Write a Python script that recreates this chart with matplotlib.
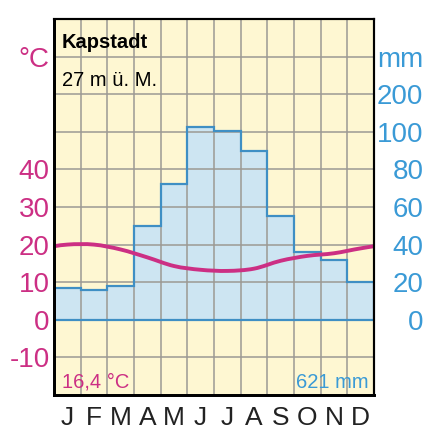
import numpy as np
import matplotlib
matplotlib.use("Agg")
import matplotlib.pyplot as plt
from matplotlib.path import Path
from matplotlib.patches import PathPatch

plt.rcParams['font.family'] = ['Liberation Sans', 'DejaVu Sans']

months = ['J', 'F', 'M', 'A', 'M', 'J', 'J', 'A', 'S', 'O', 'N', 'D']
temp = [20.0, 20.0, 18.7, 16.6, 14.3, 13.3, 13.0, 13.6, 15.7, 17.0, 17.7, 19.0]
precip = [17, 16, 18, 50, 72, 112, 103, 90, 55, 36, 32, 20]

temp_ticks = [-10, 0, 10, 20, 30, 40]
mm_ticks = [0, 20, 40, 60, 80, 100, 200]

station = "Kapstadt"
height_txt = "27 m ü. M."
mean_temp_txt = "16,4 °C"
sum_precip_txt = "621 mm"

c_temp = '#cc2f84'
c_blue = '#3a9ad6'
c_edge = '#3f8fc4'
c_fill = '#cde5f2'
c_bg = '#fef7d2'
c_grid = '#9c9a94'


def mm_to_axis(p):
    # up to 100 mm: 20 mm = 10 degC, above: 100 mm = 10 degC
    p = np.asarray(p, dtype=float)
    return np.where(p <= 100, p / 2.0, 50 + (p - 100) / 10.0)


fig = plt.figure(figsize=(4.4, 4.44), dpi=100)
ax = fig.add_axes([54 / 440, 49 / 444, 320 / 440, 376 / 444])
ax.set_facecolor(c_bg)
ax.set_xlim(0, 12)
ax.set_ylim(-20, 80)

# precipitation bars
edges = np.arange(13)
p_scaled = mm_to_axis(precip)
ax.stairs(p_scaled, edges, baseline=0, fill=True, color=c_fill, zorder=1)
ax.axhline(0, color=c_edge, lw=1.6, zorder=3)
ax.stairs(p_scaled, edges, baseline=0, fill=False, edgecolor=c_edge, lw=1.6, zorder=3)

# grid
ax.set_axisbelow(False)
ax.set_xticks(np.arange(13), minor=True)
ax.set_yticks(np.arange(-20, 81, 10))
ax.grid(True, which='minor', axis='x', color=c_grid, lw=1.1)
ax.grid(True, which='major', axis='y', color=c_grid, lw=1.1)

# temperature curve (smooth, periodic Catmull-Rom as Bezier segments)
n = len(temp)
idx = list(range(-2, n + 2))
pts = [(i + 0.5, temp[i % n]) for i in idx]
verts = [pts[1]]
codes = [Path.MOVETO]
for k in range(1, len(pts) - 2):
    p0, p1, p2, p3 = pts[k - 1], pts[k], pts[k + 1], pts[k + 2]
    c1 = (p1[0] + (p2[0] - p0[0]) / 6, p1[1] + (p2[1] - p0[1]) / 6)
    c2 = (p2[0] - (p3[0] - p1[0]) / 6, p2[1] - (p3[1] - p1[1]) / 6)
    verts += [c1, c2, p2]
    codes += [Path.CURVE4] * 3
curve = PathPatch(Path(verts, codes), facecolor='none', edgecolor=c_temp,
                  lw=2.8, zorder=4, capstyle='round')
ax.add_patch(curve)

# left axis labels
left_pos = temp_ticks + [70]
left_lab = [str(t) for t in temp_ticks] + ['°C']
ax.set_yticklabels(['' if v not in left_pos else left_lab[left_pos.index(v)]
                    for v in range(-20, 81, 10)])
ax.tick_params(axis='y', which='both', length=0, labelsize=20,
               labelcolor=c_temp, pad=3)

# month labels
ax.set_xticks(np.arange(12) + 0.5)
ax.set_xticklabels(months)
ax.tick_params(axis='x', which='both', length=0, labelsize=19, pad=8,
               labelcolor='#222222')

# right axis labels
ax2 = ax.twinx()
ax2.set_ylim(ax.get_ylim())
right_pos = list(mm_to_axis(mm_ticks)) + [70]
ax2.set_yticks(right_pos)
ax2.set_yticklabels([str(m) for m in mm_ticks] + ['mm'])
ax2.tick_params(axis='y', length=0, labelsize=20, labelcolor=c_blue, pad=35.5)
for lbl in ax2.get_yticklabels():
    lbl.set_horizontalalignment('right')

for a in (ax, ax2):
    for side, s in a.spines.items():
        s.set_color('black')
        s.set_linewidth(2.0 if side in ('left', 'bottom') else 1.5)
        s.set_zorder(6)

# texts inside the diagram
ax.text(0.3, 72.2, station, fontsize=14.5, fontweight='bold', va='baseline', zorder=5)
ax.text(0.3, 62.3, height_txt, fontsize=14.5, va='baseline', zorder=5)
ax.text(0.3, -18.1, mean_temp_txt, fontsize=14.5, color=c_temp, va='baseline', zorder=5)
ax.text(11.78, -18.1, sum_precip_txt, fontsize=14.5, color=c_blue, va='baseline',
        ha='right', zorder=5)

fig.savefig("out.png", dpi=100)
